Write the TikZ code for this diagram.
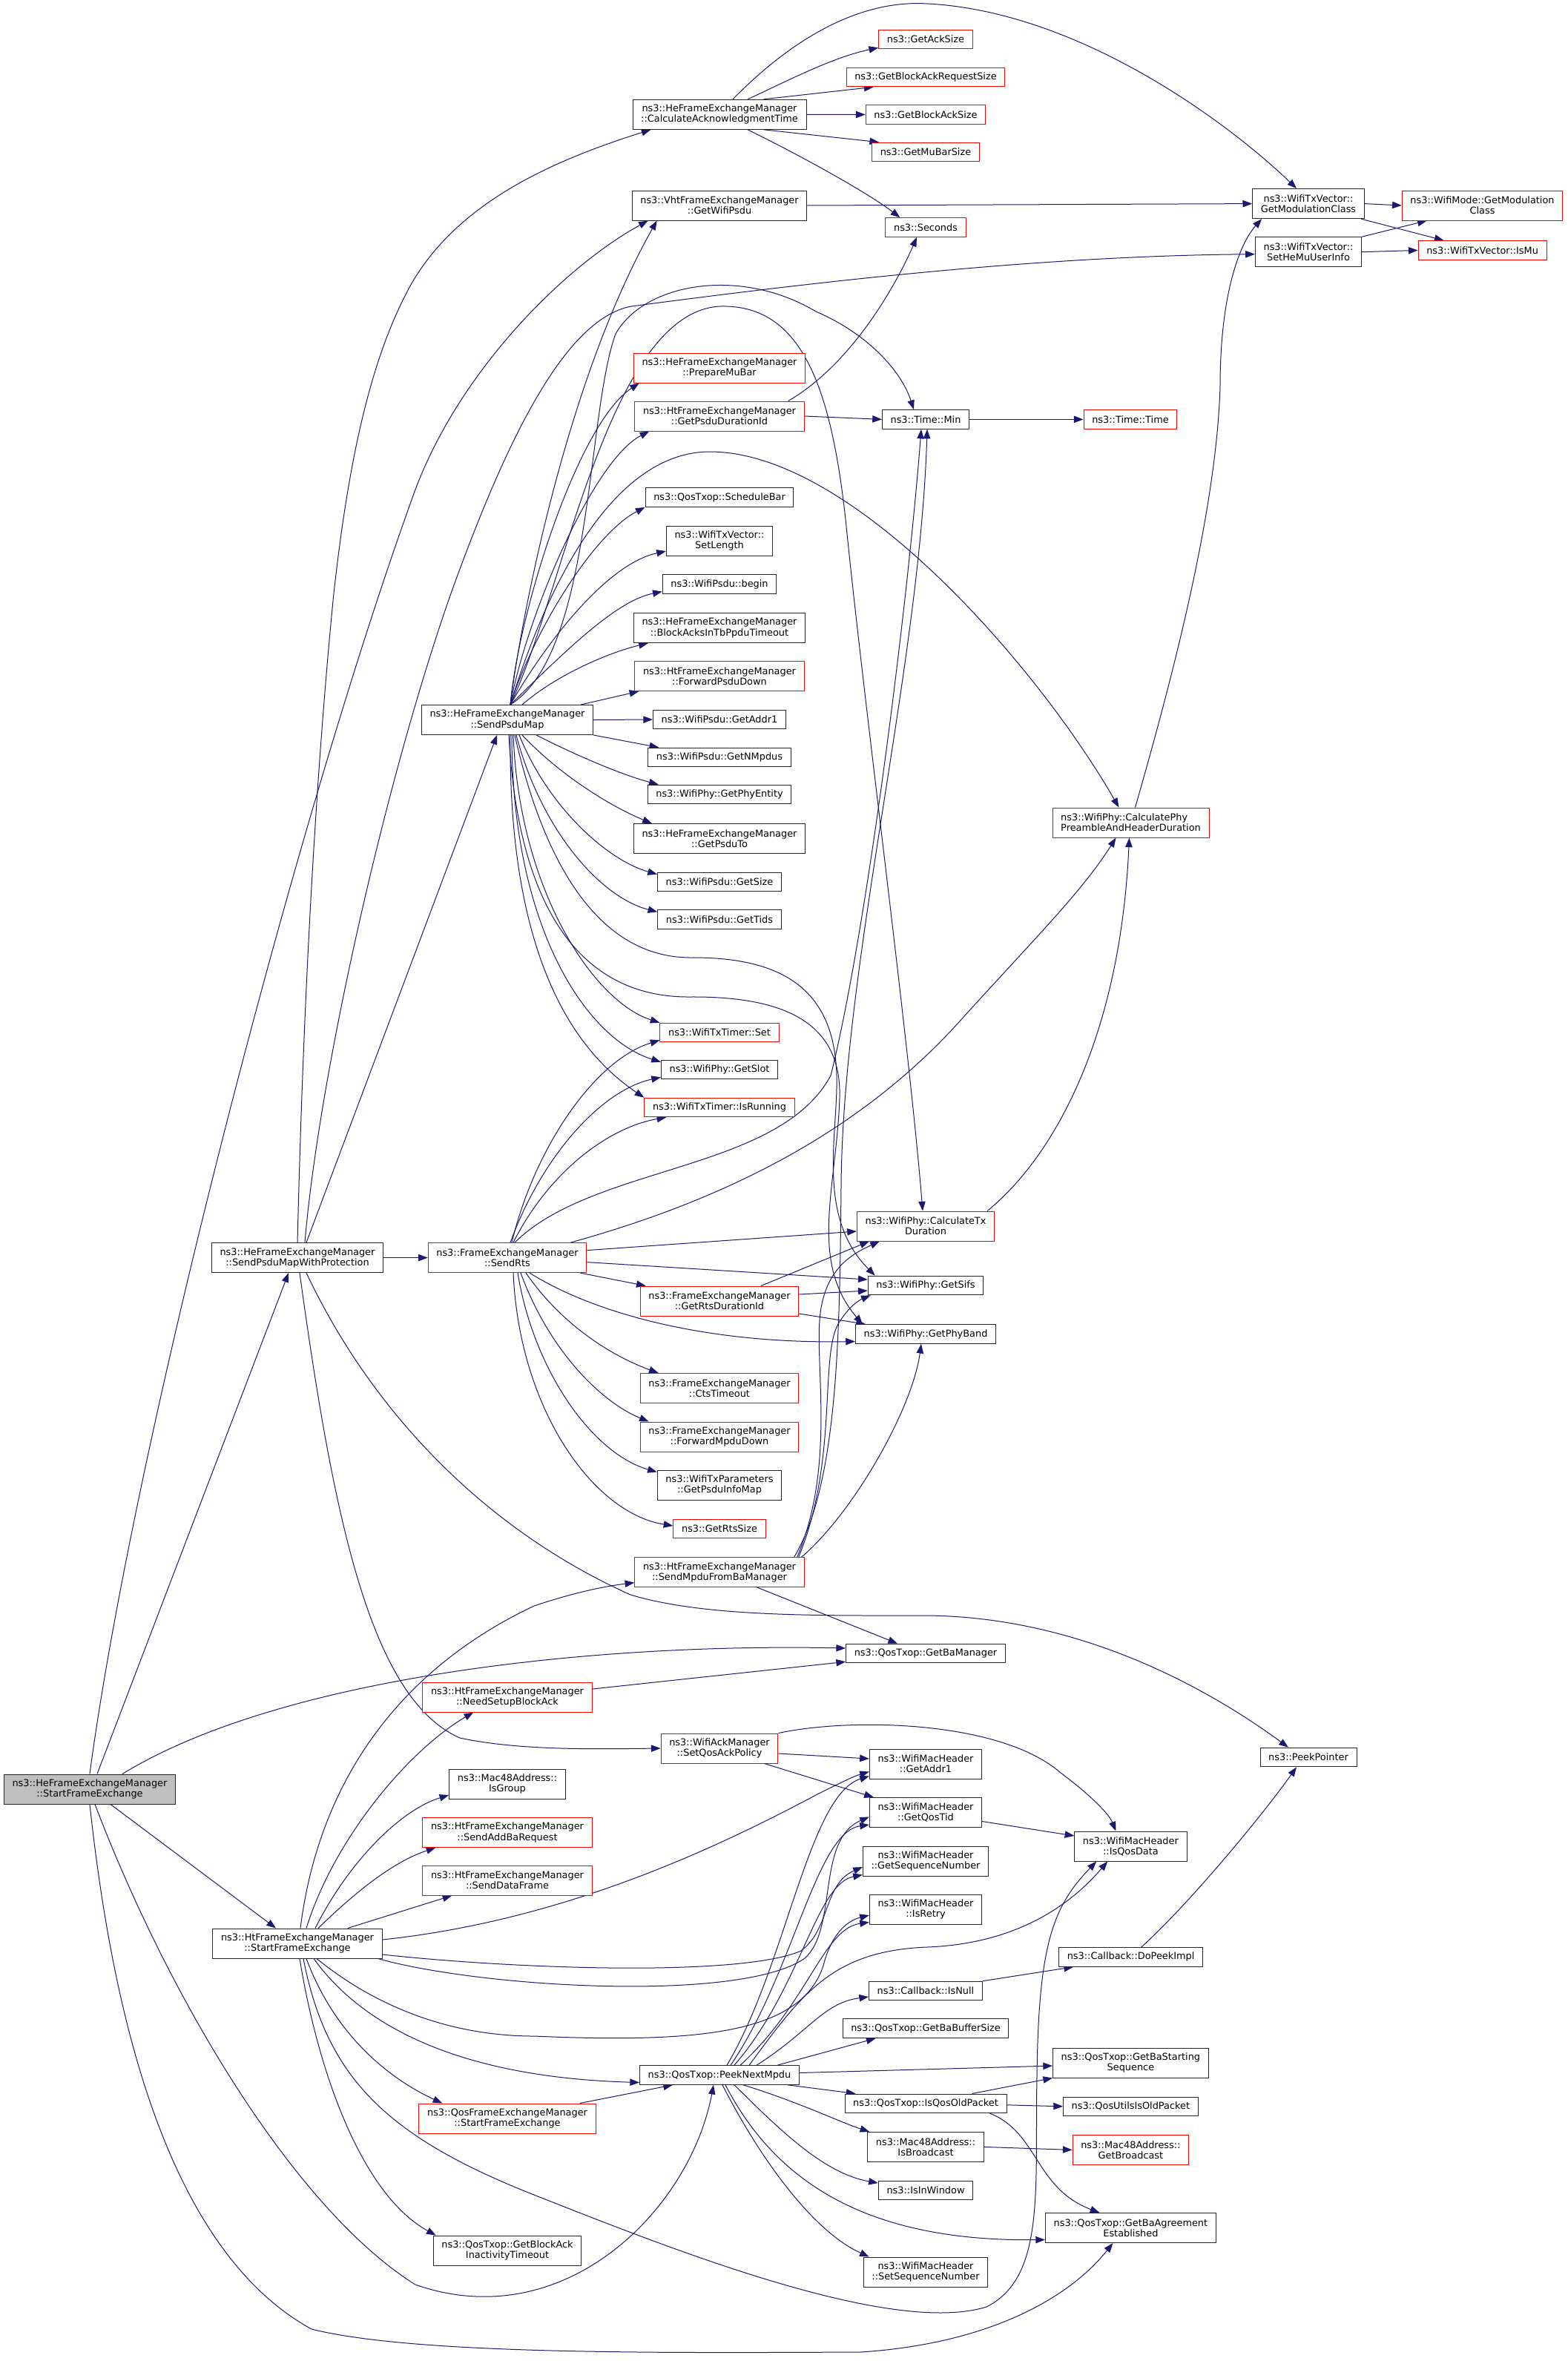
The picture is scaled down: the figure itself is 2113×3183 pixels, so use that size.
\documentclass[tikz,border=0pt]{standalone}
\usepackage{fontspec}
\setmainfont{DejaVu Sans}
\usetikzlibrary{arrows.meta,calc}
\definecolor{edgeblue}{HTML}{191970}
\definecolor{rootgray}{HTML}{BFBFBF}
\pgfdeclarelayer{bg}
\pgfdeclarelayer{edges}
\pgfsetlayers{bg,edges,main}
\begin{document}
\begin{tikzpicture}[x=0.75pt,y=-0.75pt]
  \tikzset{FuncStyle/.style = {shape          = rectangle,
                               draw           = black!85,
                               fill           = white,
                               text           = black,
                               line width     = 0.75pt,
                               inner xsep     = 8.4pt,
                               inner ysep     = 2pt,
                               minimum height = 19.2pt,
                               align          = center,
                               font           = \fontsize{9.66}{10.6}\selectfont}}
  \tikzset{FuncStyleRed/.style  = {FuncStyle,
                               draw           = red}}
  \tikzset{FuncStyleRoot/.style = {FuncStyle,
                               fill           = rootgray}}
  \tikzset{TwoLines/.style      = {minimum height = 30pt}}
  \tikzset{EdgeStyle/.style     = {draw           = edgeblue,
                               line width     = 0.75pt,
                               -{Triangle[length=9.5pt,width=7pt]}}}

\begin{pgfonlayer}{bg}
\fill[white] (0,0) rectangle (2113,3183);
\end{pgfonlayer}
\useasboundingbox (0,0) rectangle (2113,3183);

% column 0 and 1
\node[FuncStyleRoot,TwoLines] (hestart)      at (121,2412)  {ns3::HeFrameExchangeManager\\::StartFrameExchange};
\node[FuncStyle,TwoLines]     (sendwithprot) at (401,1695.6) {ns3::HeFrameExchangeManager\\::SendPsduMapWithProtection};
\node[FuncStyle,TwoLines]     (htstart)      at (401,2620)  {ns3::HtFrameExchangeManager\\::StartFrameExchange};

% column 2
\node[FuncStyle,TwoLines]     (sendpsdumap)  at (684,970.5) {ns3::HeFrameExchangeManager\\::SendPsduMap};
\node[FuncStyleRed,TwoLines]  (sendrts)      at (684,1695.6) {ns3::FrameExchangeManager\\::SendRts};
\node[FuncStyleRed,TwoLines]  (needsetup)    at (684,2288)  {ns3::HtFrameExchangeManager\\::NeedSetupBlockAck};
\node[FuncStyle,TwoLines]     (isgroup)      at (684,2405)  {ns3::Mac48Address::\\IsGroup};
\node[FuncStyleRed,TwoLines]  (addba)        at (684,2470.4) {ns3::HtFrameExchangeManager\\::SendAddBaRequest};
\node[FuncStyleRed,TwoLines]  (dataframe)    at (684,2535)  {ns3::HtFrameExchangeManager\\::SendDataFrame};
\node[FuncStyleRed,TwoLines]  (qosstart)     at (684,2856)  {ns3::QosFrameExchangeManager\\::StartFrameExchange};
\node[FuncStyle,TwoLines]     (inactivity)   at (684,3034)  {ns3::QosTxop::GetBlockAck\\InactivityTimeout};

% column 3
\node[FuncStyle,TwoLines]     (calcack)      at (970,154.3) {ns3::HeFrameExchangeManager\\::CalculateAcknowledgmentTime};
\node[FuncStyle,TwoLines]     (getpsdu)      at (970,277)   {ns3::VhtFrameExchangeManager\\::GetWifiPsdu};
\node[FuncStyleRed,TwoLines]  (preparemubar) at (970,496)   {ns3::HeFrameExchangeManager\\::PrepareMuBar};
\node[FuncStyleRed,TwoLines]  (psdudur)      at (970,561)   {ns3::HtFrameExchangeManager\\::GetPsduDurationId};
\node[FuncStyle]              (schedbar)     at (970,670.5) {ns3::QosTxop::ScheduleBar};
\node[FuncStyle,TwoLines]     (setlength)    at (970,729)   {ns3::WifiTxVector::\\SetLength};
\node[FuncStyle]              (psdubegin)    at (970,787.6) {ns3::WifiPsdu::begin};
\node[FuncStyle,TwoLines]     (blockacks)    at (970,846.5) {ns3::HeFrameExchangeManager\\::BlockAcksInTbPpduTimeout};
\node[FuncStyleRed,TwoLines]  (fwdpsdu)      at (970,911.5) {ns3::HtFrameExchangeManager\\::ForwardPsduDown};
\node[FuncStyle]              (psduaddr)     at (970,970)   {ns3::WifiPsdu::GetAddr1};
\node[FuncStyle]              (nmpdus)       at (970,1021)  {ns3::WifiPsdu::GetNMpdus};
\node[FuncStyle]              (phyentity)    at (970,1071)  {ns3::WifiPhy::GetPhyEntity};
\node[FuncStyle,TwoLines]     (psduto)       at (970,1130.5) {ns3::HeFrameExchangeManager\\::GetPsduTo};
\node[FuncStyle]              (psdusize)     at (970,1189)  {ns3::WifiPsdu::GetSize};
\node[FuncStyle]              (tids)         at (970,1239.6) {ns3::WifiPsdu::GetTids};
\node[FuncStyleRed]           (timerset)     at (970,1392)  {ns3::WifiTxTimer::Set};
\node[FuncStyle]              (getslot)      at (970,1442)  {ns3::WifiPhy::GetSlot};
\node[FuncStyleRed]           (isrunning)    at (970,1493)  {ns3::WifiTxTimer::IsRunning};
\node[FuncStyleRed,TwoLines]  (rtsdur)       at (970,1754)  {ns3::FrameExchangeManager\\::GetRtsDurationId};
\node[FuncStyleRed,TwoLines]  (ctstimeout)   at (970,1871.5) {ns3::FrameExchangeManager\\::CtsTimeout};
\node[FuncStyleRed,TwoLines]  (fwdmpdu)      at (970,1937)  {ns3::FrameExchangeManager\\::ForwardMpduDown};
\node[FuncStyle,TwoLines]     (psduinfo)     at (970,2002)  {ns3::WifiTxParameters\\::GetPsduInfoMap};
\node[FuncStyleRed]           (rtssize)      at (970,2061)  {ns3::GetRtsSize};
\node[FuncStyleRed,TwoLines]  (sendmpdu)     at (970,2119.6) {ns3::HtFrameExchangeManager\\::SendMpduFromBaManager};
\node[FuncStyleRed,TwoLines]  (setqosack)    at (970,2357)  {ns3::WifiAckManager\\::SetQosAckPolicy};
\node[FuncStyle]              (peeknext)     at (970,2797.5) {ns3::QosTxop::PeekNextMpdu};

% column 4
\node[FuncStyleRed]           (acksize)      at (1248,53)    {ns3::GetAckSize};
\node[FuncStyleRed]           (barsize)      at (1248,104)   {ns3::GetBlockAckRequestSize};
\node[FuncStyleRed]           (basize)       at (1248,154.5) {ns3::GetBlockAckSize};
\node[FuncStyleRed]           (mubarsize)    at (1248,205)   {ns3::GetMuBarSize};
\node[FuncStyleRed]           (seconds)      at (1248,306.5) {ns3::Seconds};
\node[FuncStyle]              (tmin)         at (1248,565.4) {ns3::Time::Min};
\node[FuncStyleRed,TwoLines]  (calctx)       at (1248,1653)  {ns3::WifiPhy::CalculateTx\\Duration};
\node[FuncStyle]              (sifs)         at (1248,1733)  {ns3::WifiPhy::GetSifs};
\node[FuncStyle]              (phyband)      at (1248,1798.5) {ns3::WifiPhy::GetPhyBand};
\node[FuncStyle]              (bamanager)    at (1248,2229)  {ns3::QosTxop::GetBaManager};
\node[FuncStyle,TwoLines]     (macaddr1)     at (1248,2378)  {ns3::WifiMacHeader\\::GetAddr1};
\node[FuncStyle,TwoLines]     (qostid)       at (1248,2443.5) {ns3::WifiMacHeader\\::GetQosTid};
\node[FuncStyle,TwoLines]     (seqnum)       at (1248,2509)  {ns3::WifiMacHeader\\::GetSequenceNumber};
\node[FuncStyle,TwoLines]     (isretry)      at (1248,2574)  {ns3::WifiMacHeader\\::IsRetry};
\node[FuncStyle]              (isnull)       at (1248,2684)  {ns3::Callback::IsNull};
\node[FuncStyle]              (bufsize)      at (1248,2734.7) {ns3::QosTxop::GetBaBufferSize};
\node[FuncStyle]              (isoldpkt)     at (1248,2835.8) {ns3::QosTxop::IsQosOldPacket};
\node[FuncStyle,TwoLines]     (isbcast)      at (1248,2894.4) {ns3::Mac48Address::\\IsBroadcast};
\node[FuncStyle]              (inwindow)     at (1248,2953)  {ns3::IsInWindow};
\node[FuncStyle,TwoLines]     (setseq)       at (1248,3063)  {ns3::WifiMacHeader\\::SetSequenceNumber};

% column 5
\node[FuncStyleRed]           (ttime)        at (1524,565.4)   {ns3::Time::Time};
\node[FuncStyleRed,TwoLines,align=left] (calcphy) at (1524.5,1109) {ns3::WifiPhy::CalculatePhy\\PreambleAndHeaderDuration};
\node[FuncStyle,TwoLines]     (isqosdata)    at (1524.4,2489)  {ns3::WifiMacHeader\\::IsQosData};
\node[FuncStyle]              (dopeek)       at (1524.6,2638.4) {ns3::Callback::DoPeekImpl};
\node[FuncStyle,TwoLines]     (startseq)     at (1524.4,2781)  {ns3::QosTxop::GetBaStarting\\Sequence};
\node[FuncStyle]              (qosutils)     at (1524.4,2839.8) {ns3::QosUtilsIsOldPacket};
\node[FuncStyleRed,TwoLines]  (getbcast)     at (1524.4,2898.4) {ns3::Mac48Address::\\GetBroadcast};
\node[FuncStyle,TwoLines]     (agreement)    at (1524.4,3003.5) {ns3::QosTxop::GetBaAgreement\\Established};

% column 6 and 7
\node[FuncStyle,TwoLines]     (getmod)       at (1764,274.6)  {ns3::WifiTxVector::\\GetModulationClass};
\node[FuncStyle,TwoLines]     (sethemu)      at (1764,339.7)  {ns3::WifiTxVector::\\SetHeMuUserInfo};
\node[FuncStyle]              (peekptr)      at (1764,2369)   {ns3::PeekPointer};
\node[FuncStyleRed,TwoLines]  (modcls)       at (1998.5,277)  {ns3::WifiMode::GetModulation\\Class};
\node[FuncStyleRed]           (ismu)         at (1998.6,337.4) {ns3::WifiTxVector::IsMu};

\begin{pgfonlayer}{edges}
% HeFrameExchangeManager::StartFrameExchange
\draw[EdgeStyle] ($(hestart.north)+(10,0)$) -- ($(sendwithprot.south)+(-12,0)$);
\draw[EdgeStyle] ($(hestart.south)+(28,0)$) -- ($(htstart.north)+(-29,0)$);
\draw[EdgeStyle] (hestart.north) .. controls (180,1950) and (400,1100) .. (560,660) .. controls (620,500) and (760,360) .. ($(getpsdu.south west)+(22,0)$);
\draw[EdgeStyle] ($(hestart.north)+(44,0)$) .. controls (380,2260) and (800,2215) .. ($(bamanager.west)+(0,-7)$);
\draw[EdgeStyle] ($(hestart.south)+(7,0)$) .. controls (230,2700) and (400,2980) .. (560,3080) .. controls (760,3150) and (930,2980) .. ($(peeknext.south)+(-8,0)$);
\draw[EdgeStyle] (hestart.south) .. controls (150,2700) and (220,3030) .. (420,3140) .. controls (560,3175) and (900,3172) .. (1160,3171) .. controls (1330,3160) and (1440,3100) .. ($(agreement.south)+(-24,0)$);

% SendPsduMapWithProtection
\draw[EdgeStyle] (sendwithprot.east) -- (sendrts.west);
\draw[EdgeStyle] (sendwithprot.north) .. controls (410,1300) and (430,1000) .. (450,800) .. controls (470,620) and (500,480) .. (555,382) .. controls (620,270) and (750,215) .. ($(calcack.south west)+(25,0)$);
\draw[EdgeStyle] ($(sendwithprot.north)+(10,0)$) .. controls (430,1450) and (520,1050) .. (608,800) .. controls (680,600) and (760,430) .. (851,413) .. controls (1100,380) and (1400,345) .. ($(sethemu.west)+(0,3)$);
\draw[EdgeStyle] ($(sendwithprot.north)+(12,0)$) -- ($(sendpsdumap.south)+(-14,0)$);
\draw[EdgeStyle] ($(sendwithprot.south)+(3,0)$) .. controls (450,2050) and (500,2290) .. (620,2343) .. controls (700,2360) and (800,2358) .. (setqosack.west);
\draw[EdgeStyle] ($(sendwithprot.south)+(12,0)$) .. controls (500,1900) and (650,2060) .. (850,2150) .. controls (950,2180) and (1100,2178) .. (1250,2178) .. controls (1450,2180) and (1620,2270) .. ($(peekptr.north)+(-27,0)$);

% SendPsduMap
\draw[EdgeStyle] ($(sendpsdumap.north)+(4,0)$) .. controls (700,850) and (760,520) .. ($(getpsdu.south west)+(34,0)$);
\draw[EdgeStyle] ($(sendpsdumap.north)+(4,0)$) .. controls (700,820) and (780,570) .. ($(preparemubar.south west)+(8,0)$);
\draw[EdgeStyle] ($(sendpsdumap.north)+(4,0)$) .. controls (710,830) and (800,620) .. ($(psdudur.south west)+(20,0)$);
\draw[EdgeStyle] ($(sendpsdumap.north)+(4,0)$) .. controls (720,850) and (800,720) .. (schedbar.south west);
\draw[EdgeStyle] ($(sendpsdumap.north)+(4,0)$) .. controls (740,860) and (820,760) .. ($(setlength.west)+(0,14)$);
\draw[EdgeStyle] ($(sendpsdumap.north)+(4,0)$) .. controls (760,880) and (830,810) .. ($(psdubegin.west)+(0,10)$);
\draw[EdgeStyle] ($(sendpsdumap.north)+(20,0)$) .. controls (750,910) and (820,880) .. ($(blockacks.south west)+(20,0)$);
\draw[EdgeStyle] ($(sendpsdumap.north east)+(-17,0)$) -- ($(fwdpsdu.south west)+(6,0)$);
\draw[EdgeStyle] (sendpsdumap.east) -- (psduaddr.west);
\draw[EdgeStyle] (sendpsdumap.south east) -- ($(nmpdus.north west)+(15,0)$);
\draw[EdgeStyle] ($(sendpsdumap.south)+(39,0)$) .. controls (780,1020) and (840,1045) .. ($(phyentity.north west)+(15,0)$);
\draw[EdgeStyle] ($(sendpsdumap.south)+(20,0)$) .. controls (760,1050) and (830,1090) .. ($(psduto.north west)+(25,0)$);
\draw[EdgeStyle] ($(sendpsdumap.south)+(16,0)$) .. controls (740,1090) and (820,1160) .. ($(psdusize.north west)+(0,3)$);
\draw[EdgeStyle] ($(sendpsdumap.south)+(12,0)$) .. controls (730,1120) and (810,1210) .. ($(tids.north west)+(0,3)$);
\draw[EdgeStyle] ($(sendpsdumap.south)+(8,0)$) .. controls (700,1200) and (800,1350) .. (timerset.north west);
\draw[EdgeStyle] ($(sendpsdumap.south)+(6,0)$) .. controls (690,1250) and (790,1400) .. ($(getslot.north west)+(0,3)$);
\draw[EdgeStyle] ($(sendpsdumap.south)+(4,0)$) .. controls (685,1300) and (780,1420) .. (isrunning.north west);
\draw[EdgeStyle] ($(sendpsdumap.south)+(10,0)$) .. controls (730,1150) and (800,1290) .. (930,1291) .. controls (1050,1290) and (1125,1330) .. (1128,1450) .. controls (1130,1530) and (1100,1640) .. ($(sifs.north west)+(10,0)$);
\draw[EdgeStyle] ($(sendpsdumap.south)+(2,0)$) .. controls (700,1250) and (800,1345) .. (930,1344) .. controls (1060,1343) and (1135,1380) .. (1132,1480) .. controls (1128,1600) and (1090,1700) .. ($(phyband.north west)+(10,0)$);
\draw[EdgeStyle] ($(sendpsdumap.north)+(4,0)$) .. controls (800,880) and (790,560) .. (830,450) .. controls (870,380) and (1000,360) .. (1100,420) .. controls (1170,450) and (1215,500) .. ($(tmin.north)+(-16,0)$);
\draw[EdgeStyle] ($(sendpsdumap.north)+(4,0)$) .. controls (760,800) and (820,420) .. (971,413) .. controls (1080,410) and (1120,520) .. (1140,700) .. controls (1165,950) and (1225,1400) .. ($(calctx.north)+(-4,0)$);
\draw[EdgeStyle] ($(sendpsdumap.north)+(4,0)$) .. controls (740,780) and (830,609) .. (957,609) .. controls (1150,609) and (1400,900) .. ($(calcphy.north)+(-16,0)$);

% SendRts
\draw[EdgeStyle] ($(sendrts.north)+(6,0)$) .. controls (720,1550) and (800,1430) .. ($(timerset.south west)+(0,-3)$);
\draw[EdgeStyle] ($(sendrts.north)+(4,0)$) .. controls (730,1560) and (810,1470) .. ($(getslot.south west)+(0,-3)$);
\draw[EdgeStyle] ($(sendrts.north)+(8,0)$) .. controls (740,1580) and (820,1520) .. ($(isrunning.south west)+(30,0)$);
\draw[EdgeStyle] ($(sendrts.north)+(10,0)$) .. controls (800,1570) and (1050,1580) .. (1120,1450) .. controls (1170,1250) and (1225,800) .. ($(tmin.south)+(-6,0)$);
\draw[EdgeStyle] ($(sendrts.north east)+(-22,0)$) .. controls (950,1625) and (1150,1540) .. (1300,1370) .. controls (1400,1260) and (1460,1200) .. ($(calcphy.south)+(-20,0)$);
\draw[EdgeStyle] ($(sendrts.east)+(0,-10)$) -- ($(calctx.west)+(0,7)$);
\draw[EdgeStyle] ($(sendrts.east)+(0,6)$) -- ($(sifs.west)+(0,-8)$);
\draw[EdgeStyle] ($(sendrts.south east)+(-9,0)$) -- ($(rtsdur.north west)+(8,0)$);
\draw[EdgeStyle] ($(sendrts.south)+(30,0)$) .. controls (800,1770) and (950,1812) .. ($(phyband.west)+(0,10)$);
\draw[EdgeStyle] ($(sendrts.south)+(25,0)$) .. controls (760,1790) and (830,1830) .. ($(ctstimeout.north west)+(25,0)$);
\draw[EdgeStyle] ($(sendrts.south)+(18,0)$) .. controls (740,1820) and (810,1890) .. ($(fwdmpdu.north west)+(12,0)$);
\draw[EdgeStyle] ($(sendrts.south)+(14,0)$) .. controls (720,1850) and (800,1960) .. ($(psduinfo.north west)+(0,3)$);
\draw[EdgeStyle] ($(sendrts.south)+(8,0)$) .. controls (700,1900) and (800,2040) .. ($(rtssize.west)+(0,-4)$);

% GetRtsDurationId, SendMpduFromBaManager, NeedSetupBlockAck
\draw[EdgeStyle] ($(rtsdur.north)+(56,0)$) -- ($(calctx.south west)+(17,0)$);
\draw[EdgeStyle] ($(rtsdur.east)+(0,-9)$) -- ($(sifs.west)+(0,7)$);
\draw[EdgeStyle] ($(rtsdur.east)+(0,17)$) -- ($(phyband.north west)+(14,0)$);
\draw[EdgeStyle] ($(sendmpdu.south)+(51,0)$) -- ($(bamanager.north)+(-38,0)$);
\draw[EdgeStyle] ($(sendmpdu.north east)+(-10,0)$) .. controls (1125,1980) and (1100,1850) .. (1105,1780) .. controls (1110,1710) and (1150,1690) .. ($(calctx.south west)+(31,0)$);
\draw[EdgeStyle] ($(sendmpdu.north east)+(-8,0)$) .. controls (1130,1970) and (1105,1830) .. (1130,1785) .. controls (1145,1760) and (1160,1752) .. ($(sifs.south west)+(4,0)$);
\draw[EdgeStyle] ($(sendmpdu.north east)+(-4,0)$) .. controls (1150,2040) and (1230,1900) .. ($(phyband.south)+(-6,0)$);
\draw[EdgeStyle] ($(sendmpdu.north east)+(-14,0)$) .. controls (1130,2000) and (1132,1800) .. (1134,1600) .. controls (1136,1300) and (1240,900) .. ($(tmin.south)+(2,0)$);
\draw[EdgeStyle] ($(needsetup.east)+(0,-11)$) -- ($(bamanager.south west)+(0,-2)$);

% SetQosAckPolicy and the small ones
\draw[EdgeStyle] ($(setqosack.east)+(0,7)$) -- ($(macaddr1.west)+(0,-7)$);
\draw[EdgeStyle] ($(setqosack.south east)+(-19,0)$) -- ($(qostid.north west)+(6,0)$);
\draw[EdgeStyle] (setqosack.north east) .. controls (1150,2315) and (1350,2320) .. (1430,2390) .. controls (1470,2420) and (1495,2445) .. ($(isqosdata.north)+(-20,0)$);
\draw[EdgeStyle] ($(qostid.east)+(0,12)$) -- ($(isqosdata.west)+(0,-14)$);
\draw[EdgeStyle] (isnull.north east) -- ($(dopeek.south west)+(20,0)$);
\draw[EdgeStyle] ($(dopeek.north)+(14,0)$) .. controls (1600,2570) and (1700,2450) .. ($(peekptr.south)+(-16,0)$);
\draw[EdgeStyle] ($(isoldpkt.north east)+(-47,0)$) -- (startseq.south west);
\draw[EdgeStyle] ($(isoldpkt.east)+(0,2)$) -- (qosutils.west);
\draw[EdgeStyle] ($(isoldpkt.south east)+(-23,0)$) .. controls (1400,2875) and (1395,2950) .. ($(agreement.north)+(-42,0)$);
\draw[EdgeStyle] (isbcast.east) -- (getbcast.west);

% PeekNextMpdu
\draw[EdgeStyle] ($(peeknext.north)+(10,0)$) .. controls (1060,2650) and (1090,2420) .. ($(macaddr1.south west)+(0,-4)$);
\draw[EdgeStyle] ($(peeknext.north)+(15,0)$) .. controls (1070,2660) and (1100,2470) .. ($(qostid.south west)+(0,-4)$);
\draw[EdgeStyle] ($(peeknext.north)+(20,0)$) .. controls (1080,2680) and (1100,2540) .. ($(seqnum.south west)+(0,-2)$);
\draw[EdgeStyle] ($(peeknext.north)+(28,0)$) .. controls (1090,2700) and (1110,2600) .. ($(isretry.south west)+(0,-3)$);
\draw[EdgeStyle] ($(peeknext.north)+(40,0)$) .. controls (1080,2690) and (1120,2630) .. (1250,2625) .. controls (1380,2620) and (1450,2560) .. ($(isqosdata.south west)+(45,0)$);
\draw[EdgeStyle] ($(peeknext.north)+(50,0)$) .. controls (1090,2740) and (1110,2700) .. ($(isnull.west)+(0,8)$);
\draw[EdgeStyle] ($(peeknext.north east)+(-30,0)$) -- ($(bufsize.south west)+(45,0)$);
\draw[EdgeStyle] ($(peeknext.east)+(0,-3)$) -- ($(startseq.west)+(0,4)$);
\draw[EdgeStyle] ($(peeknext.south east)+(-16,0)$) -- ($(isoldpkt.north west)+(15,0)$);
\draw[EdgeStyle] ($(peeknext.south)+(32,0)$) .. controls (1080,2835) and (1130,2860) .. ($(isbcast.north west)+(3,0)$);
\draw[EdgeStyle] ($(peeknext.south)+(20,0)$) .. controls (1050,2870) and (1110,2930) .. ($(inwindow.west)+(0,-10)$);
\draw[EdgeStyle] ($(peeknext.south)+(8,0)$) .. controls (1050,2950) and (1180,3022) .. ($(agreement.west)+(0,16)$);
\draw[EdgeStyle] ($(peeknext.south)+(4,0)$) .. controls (1030,2920) and (1100,3010) .. ($(setseq.north west)+(8,0)$);

% HtFrameExchangeManager::StartFrameExchange
\draw[EdgeStyle] ($(htstart.north)+(4,0)$) .. controls (430,2400) and (540,2250) .. (720,2165) .. controls (780,2145) and (820,2138) .. ($(sendmpdu.west)+(0,14)$);
\draw[EdgeStyle] ($(htstart.north)+(12,0)$) .. controls (450,2480) and (550,2360) .. ($(needsetup.south west)+(69,0)$);
\draw[EdgeStyle] ($(htstart.north)+(24,0)$) .. controls (470,2510) and (540,2440) .. ($(isgroup.west)+(0,15)$);
\draw[EdgeStyle] ($(htstart.north)+(28,0)$) .. controls (480,2550) and (530,2510) .. ($(addba.south west)+(18,0)$);
\draw[EdgeStyle] ($(htstart.north east)+(-47,0)$) -- ($(dataframe.south west)+(40,0)$);
\draw[EdgeStyle] ($(htstart.east)+(0,-5)$) .. controls (750,2590) and (950,2500) .. (1100,2420) .. controls (1130,2405) and (1150,2395) .. ($(macaddr1.south west)+(0,-10)$);
\draw[EdgeStyle] ($(htstart.east)+(0,15)$) .. controls (700,2655) and (1000,2665) .. (1080,2630) .. controls (1120,2600) and (1110,2540) .. ($(seqnum.west)+(0,8)$);
\draw[EdgeStyle] ($(htstart.south east)+(-6,0)$) .. controls (650,2680) and (1000,2700) .. (1085,2640) .. controls (1130,2600) and (1100,2480) .. ($(qostid.west)+(0,6)$);
\draw[EdgeStyle] ($(htstart.south)+(26,0)$) .. controls (500,2700) and (600,2745) .. (720,2745) .. controls (950,2755) and (1080,2740) .. (1110,2650) .. controls (1120,2610) and (1140,2590) .. ($(isretry.west)+(0,8)$);
\draw[EdgeStyle] ($(htstart.south)+(22,0)$) .. controls (480,2720) and (600,2800) .. ($(peeknext.west)+(0,10)$);
\draw[EdgeStyle] ($(htstart.south)+(12,0)$) .. controls (450,2740) and (520,2800) .. ($(qosstart.north west)+(32,0)$);
\draw[EdgeStyle] ($(htstart.south)+(3,0)$) .. controls (430,2800) and (490,2960) .. ($(inactivity.north west)+(4,0)$);
\draw[EdgeStyle] ($(htstart.south)+(8,0)$) .. controls (440,2800) and (520,2880) .. (720,2959) .. controls (900,3030) and (1200,3150) .. (1330,3110) .. controls (1410,3070) and (1395,2950) .. (1398,2800) .. controls (1400,2620) and (1420,2570) .. ($(isqosdata.south west)+(30,0)$);
\draw[EdgeStyle] ($(qosstart.north east)+(-22,0)$) -- ($(peeknext.south west)+(45,0)$);

% CalculateAcknowledgmentTime
\draw[EdgeStyle] ($(calcack.north)+(38,0)$) .. controls (1060,110) and (1120,78) .. ($(acksize.south west)+(0,-2)$);
\draw[EdgeStyle] ($(calcack.north east)+(-58,0)$) -- ($(barsize.south west)+(37,0)$);
\draw[EdgeStyle] (calcack.east) -- (basize.west);
\draw[EdgeStyle] ($(calcack.south east)+(-58,0)$) -- ($(mubarsize.north west)+(10,0)$);
\draw[EdgeStyle] ($(calcack.south)+(38,0)$) .. controls (1080,210) and (1170,260) .. ($(seconds.north west)+(20,0)$);
\draw[EdgeStyle] ($(calcack.north)+(18,0)$) .. controls (1080,40) and (1170,0) .. (1250,5) .. controls (1450,15) and (1650,160) .. ($(getmod.north)+(-16,0)$);

% right hand side
\draw[EdgeStyle] (getpsdu.east) -- (getmod.west);
\draw[EdgeStyle] (getmod.east) -- (modcls.west);
\draw[EdgeStyle] ($(getmod.south east)+(-5,0)$) -- ($(ismu.north west)+(35,0)$);
\draw[EdgeStyle] (sethemu.north east) -- ($(modcls.south west)+(34,0)$);
\draw[EdgeStyle] (sethemu.east) -- (ismu.west);
\draw[EdgeStyle] (psdudur.east) -- (tmin.west);
\draw[EdgeStyle] ($(psdudur.north east)+(-22,0)$) .. controls (1150,490) and (1210,380) .. ($(seconds.south)+(-12,0)$);
\draw[EdgeStyle] (tmin.east) -- (ttime.west);
\draw[EdgeStyle] ($(calcphy.north)+(6,0)$) .. controls (1570,950) and (1640,700) .. (1645,520) .. controls (1645,400) and (1670,330) .. ($(getmod.south west)+(13,0)$);
\draw[EdgeStyle] ($(calctx.north east)+(-10,0)$) .. controls (1420,1560) and (1510,1400) .. ($(calcphy.south)+(-2,0)$);
\end{pgfonlayer}

\end{tikzpicture}
\end{document}
